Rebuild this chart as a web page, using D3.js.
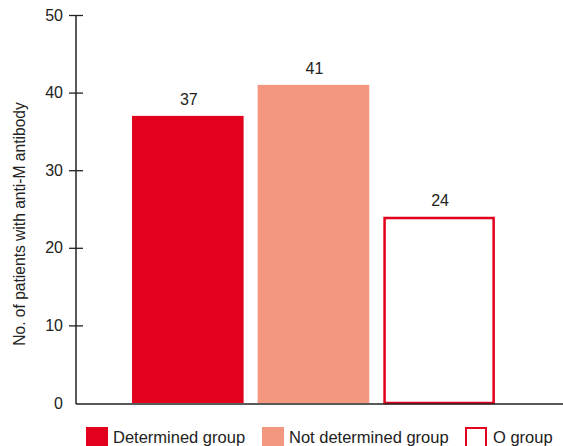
<!DOCTYPE html>
<html><head><meta charset="utf-8">
<script src="https://cdn.jsdelivr.net/npm/d3@7/dist/d3.min.js"></script>
<style>body{margin:0;background:#fff}svg{display:block;font-family:"Liberation Sans",Arial,sans-serif}</style>
</head><body><svg id="c" width="563" height="446"></svg>
<script>
const categories = ["Determined group", "Not determined group", "O group"];
const values = [37, 41, 24];
const yTicks = [0, 10, 20, 30, 40, 50];
const yTitle = "No. of patients with anti-M antibody";

const colors = {"Determined group":"#e3001c","Not determined group":"#f3977e","O group":"#ffffff"};
const strokes = {"Determined group":"none","Not determined group":"none","O group":"#e3001c"};

const svg = d3.select("#c");
const x0 = 76, x1 = 562, yBase = 403;
const x = d3.scaleBand().domain(categories).range([x0, x1]).paddingInner(0.112).paddingOuter(0.49).align(0.455);
const y = d3.scaleLinear().domain([0, 50]).range([yBase, 15]);

// bars
svg.selectAll("rect.bar").data(categories).join("rect")
  .attr("class","bar")
  .attr("x", (d)=> strokes[d]!=="none" ? x(d)+1.25 : x(d))
  .attr("width", (d)=> strokes[d]!=="none" ? x.bandwidth()-2.5 : x.bandwidth())
  .attr("y", (d,i)=> strokes[d]!=="none" ? y(values[i])+1.25 : y(values[i]))
  .attr("height", (d,i)=> strokes[d]!=="none" ? yBase - y(values[i]) - 1.25 : yBase - y(values[i]))
  .attr("fill", d=>colors[d])
  .attr("stroke", d=>strokes[d])
  .attr("stroke-width", 2.5);

// value labels
svg.selectAll("text.val").data(categories).join("text")
  .attr("class","val")
  .attr("x", d=> x(d)+x.bandwidth()/2 + 1)
  .attr("y", (d,i)=> y(values[i]) - 11)
  .attr("text-anchor","middle")
  .attr("font-size", 16)
  .attr("fill","#222")
  .text((d,i)=>values[i]);

// y axis
const ax = svg.append("g").attr("transform",`translate(${x0},0)`)
  .call(d3.axisLeft(y).tickValues(yTicks).tickSize(7).tickPadding(6).tickFormat(d3.format("d")));
ax.select(".domain").remove();
ax.selectAll(".tick line").attr("x1", d=> d===0 ? 0 : 7).attr("x2", d=> d===0 ? 0 : -7).attr("stroke","#222").attr("stroke-width",1.3);
ax.selectAll(".tick text").attr("font-size", 16).attr("fill","#222").attr("font-family","Liberation Sans, Arial, sans-serif");
svg.append("line").attr("x1",x0).attr("x2",x0).attr("y1",y(50)).attr("y2",yBase+1).attr("stroke","#222").attr("stroke-width",1.5);
svg.append("line").attr("x1",x0).attr("x2",x1+1).attr("y1",yBase+1).attr("y2",yBase+1).attr("stroke","#222").attr("stroke-width",1.5);

// y title
svg.append("text")
  .attr("transform",`translate(25,224) rotate(-90)`)
  .attr("text-anchor","middle")
  .attr("font-size", 15.6)
  .attr("fill","#222")
  .text(yTitle);

// legend
const legX = [86, 262, 465];
const lg = svg.selectAll("g.leg").data(categories).join("g").attr("class","leg")
  .attr("transform",(d,i)=>`translate(${legX[i]},427)`);
lg.append("rect")
  .attr("x", d=> strokes[d]!=="none" ? 1 : 0)
  .attr("y", d=> strokes[d]!=="none" ? 1 : 0)
  .attr("width", d=> strokes[d]!=="none" ? 20 : 22)
  .attr("height", 22)
  .attr("fill", d=>colors[d]).attr("stroke", d=>strokes[d]).attr("stroke-width",2);
lg.append("text").attr("x", (d,i)=> i===2 ? 28 : 27).attr("y", 16)
  .attr("font-size", 16.5).attr("fill","#222").text(d=>d);
</script></body></html>
